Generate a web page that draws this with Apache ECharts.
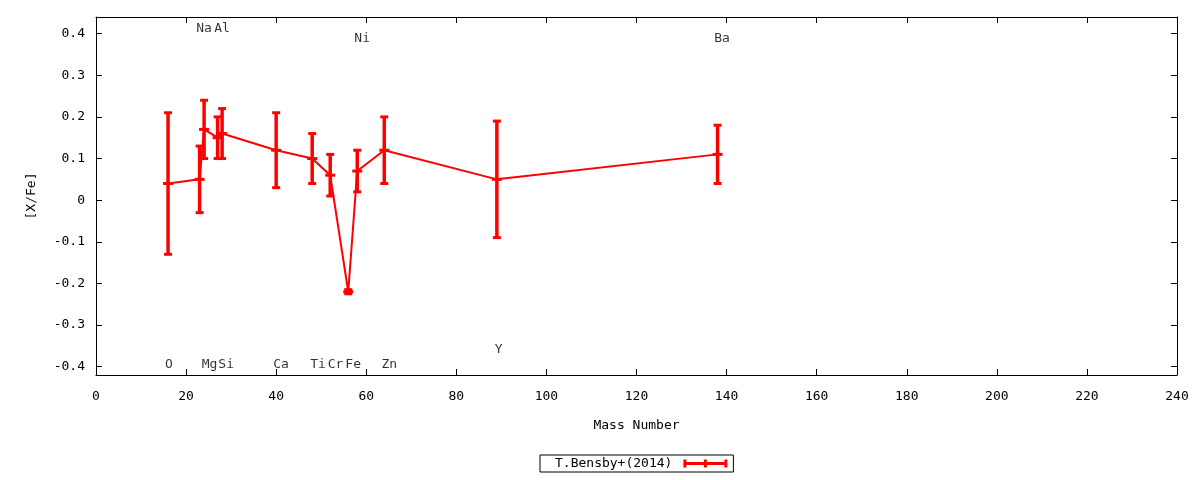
<!DOCTYPE html>
<html>
<head>
<meta charset="utf-8">
<script src="https://cdn.jsdelivr.net/npm/echarts@6/dist/echarts.min.js"></script>
<style>html,body{margin:0;padding:0;background:#fff}#c{width:1200px;height:480px}</style>
</head>
<body>
<div id="c"></div>
<script>
// Data
var elements = ['O','Na','Mg','Al','Si','Ca','Ti','Cr','Fe','Ni','Zn','Y','Ba'];
var massNumber = [16, 23, 24, 27, 28, 40, 48, 52, 56, 58, 64, 89, 138];
var xFe = [0.04, 0.05, 0.17, 0.15, 0.16, 0.12, 0.10, 0.06, -0.22, 0.07, 0.12, 0.05, 0.11];
var errLow = [-0.13, -0.03, 0.10, 0.10, 0.10, 0.03, 0.04, 0.01, -0.225, 0.02, 0.04, -0.09, 0.04];
var errHigh = [0.21, 0.13, 0.24, 0.20, 0.22, 0.21, 0.16, 0.11, -0.215, 0.12, 0.20, 0.19, 0.18];
// element label positions (data coords)
var labelX = [16.2, 24.0, 25.2, 28.0, 28.9, 41.1, 49.3, 53.2, 57.1, 59.1, 65.1, 89.4, 139.0];
var labelY = [-0.394, 0.413, -0.394, 0.413, -0.394, -0.394, -0.394, -0.394, -0.394, 0.389, -0.394, -0.36, 0.389];
var yTicks = [-0.4, -0.3, -0.2, -0.1, 0, 0.1, 0.2, 0.3, 0.4];
var seriesName = 'T.Bensby+(2014)';

var FONT = 'DejaVu Sans Mono';
var RED = '#ff0000';

var lineData = massNumber.map(function (m, i) { return [m, xFe[i]]; });
var errData = massNumber.map(function (m, i) { return [m, errLow[i], errHigh[i], xFe[i]]; });
var labelData = elements.map(function (e, i) { return [labelX[i], labelY[i], e]; });

function fmtY(v) {
  var r = Math.round(v * 10) / 10;
  return r === 0 ? '0' : String(r);
}

var chart = echarts.init(document.getElementById('c'));
var tickStyle = { show: true, inside: true, length: 6, lineStyle: { color: '#000', width: 1 } };
var axisLineStyle = { show: true, onZero: false, lineStyle: { color: '#000', width: 1 } };

chart.setOption({
  animation: false,
  backgroundColor: '#fff',
  grid: { left: 96, right: 23, top: 17, bottom: 105, containLabel: false },
  legend: {
    data: [seriesName],
    left: 540,
    top: 455,
    align: 'right',
    orient: 'horizontal',
    padding: [2, 6, 2, 15],
    borderColor: '#000',
    borderWidth: 1,
    borderRadius: 0,
    itemWidth: 44,
    itemHeight: 8,
    itemGap: 10,
    icon: 'path://M0,2.6H44V5.4H0Z M0,0H3V8H0Z M41,0H44V8H41Z M20.5,0H23.5V8H20.5Z',
    itemStyle: { color: RED },
    textStyle: { fontFamily: FONT, fontSize: 13, color: '#000', padding: [0, 6, 0, 0] },
    selectedMode: false
  },
  xAxis: [{
    type: 'value', min: 0, max: 240, interval: 20, position: 'bottom',
    axisLine: axisLineStyle, axisTick: tickStyle, splitLine: { show: false },
    axisLabel: { color: '#000', fontFamily: FONT, fontSize: 13, margin: 15 },
    name: 'Mass Number', nameLocation: 'middle', nameGap: 44,
    nameTextStyle: { color: '#000', fontFamily: FONT, fontSize: 13 }
  }, {
    type: 'value', min: 0, max: 240, interval: 20, position: 'top',
    axisLine: axisLineStyle, axisTick: tickStyle, splitLine: { show: false },
    axisLabel: { show: false }
  }],
  yAxis: [{
    type: 'value', min: -0.42, max: 0.44, position: 'left',
    axisLine: axisLineStyle,
    axisTick: { show: true, inside: true, length: 6, lineStyle: { color: '#000', width: 1 }, customValues: yTicks },
    splitLine: { show: false },
    axisLabel: { color: '#000', fontFamily: FONT, fontSize: 13, margin: 11, customValues: yTicks, formatter: fmtY },
    name: '[X/Fe]', nameLocation: 'middle', nameGap: 58, nameRotate: 90,
    nameTextStyle: { color: '#000', fontFamily: FONT, fontSize: 13 }
  }, {
    type: 'value', min: -0.42, max: 0.44, position: 'right',
    axisLine: axisLineStyle,
    axisTick: { show: true, inside: true, length: 6, lineStyle: { color: '#000', width: 1 }, customValues: yTicks },
    splitLine: { show: false },
    axisLabel: { show: false, customValues: yTicks }
  }],
  series: [{
    name: seriesName,
    type: 'line',
    data: lineData,
    symbol: 'none',
    lineStyle: { color: RED, width: 2 },
    itemStyle: { color: RED },
    z: 2
  }, {
    name: seriesName,
    type: 'custom',
    data: errData,
    itemStyle: { color: RED },
    renderItem: function (params, api) {
      var x = api.value(0);
      var lo = api.coord([x, api.value(1)]);
      var hi = api.coord([x, api.value(2)]);
      var c = api.coord([x, api.value(3)]);
      var cap = 4, mid = 5;
      var st = { stroke: RED, lineWidth: 3.5 };
      var st2 = { stroke: RED, lineWidth: 3 };
      return {
        type: 'group',
        children: [
          { type: 'line', shape: { x1: lo[0], y1: lo[1], x2: hi[0], y2: hi[1] }, style: st },
          { type: 'line', shape: { x1: lo[0] - cap, y1: lo[1], x2: lo[0] + cap, y2: lo[1] }, style: st2 },
          { type: 'line', shape: { x1: hi[0] - cap, y1: hi[1], x2: hi[0] + cap, y2: hi[1] }, style: st2 },
          { type: 'line', shape: { x1: c[0] - mid, y1: c[1], x2: c[0] + mid, y2: c[1] }, style: st2 }
        ]
      };
    },
    z: 3
  }, {
    name: 'labels',
    type: 'scatter',
    data: labelData,
    symbolSize: 1,
    itemStyle: { color: 'rgba(0,0,0,0)' },
    label: {
      show: true, position: 'inside',
      formatter: function (p) { return p.data[2]; },
      color: '#000', fontFamily: FONT, fontSize: 13
    },
    emphasis: { disabled: true },
    silent: true,
    z: 4
  }]
});
</script>
</body>
</html>
